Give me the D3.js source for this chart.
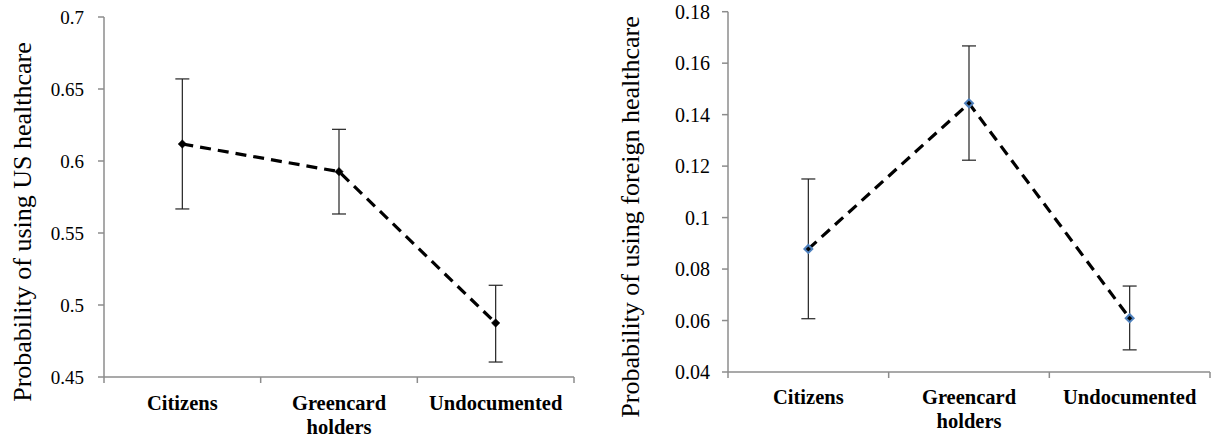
<!DOCTYPE html>
<html>
<head>
<meta charset="utf-8">
<script src="https://cdn.jsdelivr.net/npm/d3@7"></script>
<style>
  body { margin: 0; background: #fff; }
</style>
</head>
<body>
<svg id="chart" width="1212" height="442" font-family="'Liberation Serif', 'Times New Roman', Times, 'DejaVu Serif', serif"></svg>
<script>
// categories (second line of a label after "|")
let categories = ["Citizens", "Greencard|holders", "Undocumented"];

// left panel: US healthcare
let usValues = [0.6118, 0.5926, 0.4875];
let usUpper = [0.657, 0.622, 0.5137];
let usLower = [0.5667, 0.5632, 0.4604];
let usTicks = [0.45, 0.5, 0.55, 0.6, 0.65, 0.7];

// right panel: foreign healthcare
let fgValues = [0.0878, 0.1444, 0.0609];
let fgUpper = [0.115, 0.1667, 0.0734];
let fgLower = [0.0607, 0.1223, 0.0486];
let fgTicks = [0.04, 0.06, 0.08, 0.1, 0.12, 0.14, 0.16, 0.18];

let svg = d3.select("#chart");
let serif = "'Liberation Serif', 'Times New Roman', Times, 'DejaVu Serif', serif";

function drawPanel(opt) {
    let g = svg.append("g");

    let x = d3.scaleBand().domain(categories).range([opt.left, opt.right]);
    let y = d3.scaleLinear().domain(opt.domain).range([opt.bottom, opt.top]);

    // y axis
    g.append("line")
        .attr("x1", opt.left).attr("x2", opt.left)
        .attr("y1", y(opt.domain[0])).attr("y2", y(opt.domain[1]))
        .attr("stroke", "#8c8c8c").attr("stroke-width", 1.5);
    g.selectAll(".ytick").data(opt.ticks).enter().append("line")
        .attr("x1", opt.left - 6).attr("x2", opt.left)
        .attr("y1", d => y(d)).attr("y2", d => y(d))
        .attr("stroke", "#8c8c8c").attr("stroke-width", 1.5);
    g.selectAll(".ylab").data(opt.ticks).enter().append("text")
        .attr("x", opt.labelRight)
        .attr("y", d => y(d))
        .attr("dy", "0.35em")
        .attr("text-anchor", "end")
        .attr("font-family", serif)
        .attr("font-size", opt.tickSize)
        .text(d => d);

    // x axis with ticks at band edges
    g.append("line")
        .attr("x1", opt.left).attr("x2", opt.right)
        .attr("y1", opt.bottom).attr("y2", opt.bottom)
        .attr("stroke", "#8c8c8c").attr("stroke-width", 1.5);
    let edges = categories.map(c => x(c)).concat([opt.right]);
    g.selectAll(".xtick").data(edges).enter().append("line")
        .attr("x1", d => d).attr("x2", d => d)
        .attr("y1", opt.bottom).attr("y2", opt.bottom + 6)
        .attr("stroke", "#8c8c8c").attr("stroke-width", 1.5);

    categories.forEach(function(c) {
        let lines = c.split("|");
        let t = g.append("text")
            .attr("x", x(c) + x.bandwidth() / 2)
            .attr("y", opt.catY)
            .attr("text-anchor", "middle")
            .attr("font-family", serif)
            .attr("font-size", 20.5)
            .attr("font-weight", "bold");
        lines.forEach(function(l, i) {
            t.append("tspan")
                .attr("x", x(c) + x.bandwidth() / 2)
                .attr("dy", i === 0 ? 0 : 24)
                .text(l);
        });
    });

    // axis title
    g.append("text")
        .attr("transform", "translate(" + opt.titleX + "," + opt.titleY + ") rotate(-90)")
        .attr("text-anchor", "middle")
        .attr("dy", "0.35em")
        .attr("font-family", serif)
        .attr("font-size", 26)
        .text(opt.title);

    let cx = d => x(d) + x.bandwidth() / 2;

    // error bars
    categories.forEach(function(c, i) {
        g.append("line")
            .attr("x1", cx(c)).attr("x2", cx(c))
            .attr("y1", y(opt.upper[i])).attr("y2", y(opt.lower[i]))
            .attr("stroke", "#222").attr("stroke-width", 1.2);
        [opt.upper[i], opt.lower[i]].forEach(function(v) {
            g.append("line")
                .attr("x1", cx(c) - 7).attr("x2", cx(c) + 7)
                .attr("y1", y(v)).attr("y2", y(v))
                .attr("stroke", "#222").attr("stroke-width", 1.2);
        });
    });

    // dashed line
    let line = d3.line()
        .x((d, i) => cx(categories[i]))
        .y(d => y(d));
    g.append("path")
        .datum(opt.values)
        .attr("d", line)
        .attr("fill", "none")
        .attr("stroke", "#000")
        .attr("stroke-width", 3.2)
        .attr("stroke-dasharray", "11,7");

    // markers
    g.selectAll(".marker").data(opt.values).enter().append("path")
        .attr("d", d3.symbol().type(d3.symbolDiamond2).size(opt.markerSize))
        .attr("transform", (d, i) => "translate(" + cx(categories[i]) + "," + y(d) + ")")
        .attr("fill", "#000")
        .attr("stroke", opt.markerStroke)
        .attr("stroke-width", opt.markerStrokeWidth);
}

drawPanel({
    left: 104, right: 574, top: 17, bottom: 377,
    domain: [0.45, 0.7], ticks: usTicks,
    values: usValues, upper: usUpper, lower: usLower,
    labelRight: 84, tickSize: 19, catY: 410,
    title: "Probability of using US healthcare", titleX: 22, titleY: 222,
    markerSize: 45, markerStroke: "#000", markerStrokeWidth: 0.5
});

drawPanel({
    left: 728, right: 1210, top: 11.7, bottom: 372,
    domain: [0.04, 0.18], ticks: fgTicks,
    values: fgValues, upper: fgUpper, lower: fgLower,
    labelRight: 710, tickSize: 20, catY: 404,
    title: "Probability of using foreign healthcare", titleX: 630, titleY: 217,
    markerSize: 40, markerStroke: "#4f81bd", markerStrokeWidth: 2
});
</script>
</body>
</html>
